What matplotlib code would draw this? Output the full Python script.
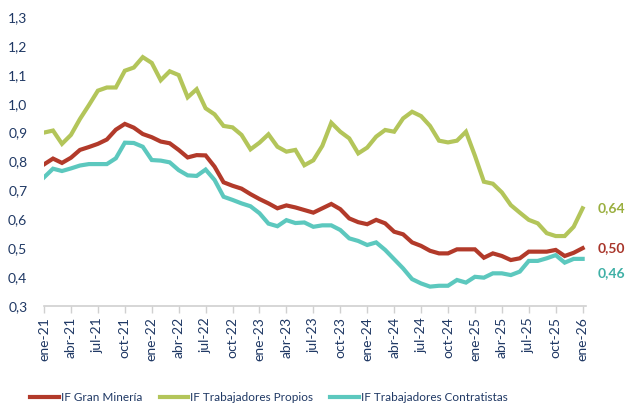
import numpy as np
import matplotlib
matplotlib.use('Agg')
import matplotlib.pyplot as plt
from matplotlib.ticker import FuncFormatter

meses = ['ene', 'feb', 'mar', 'abr', 'may', 'jun', 'jul', 'ago', 'sep', 'oct', 'nov', 'dic']
fechas = [f'{meses[i % 12]}-{21 + i // 12}' for i in range(61)]

gran_mineria = [0.79, 0.81, 0.795, 0.813, 0.84, 0.85, 0.861, 0.876, 0.91, 0.93,
                0.917, 0.895, 0.884, 0.869, 0.863, 0.84, 0.814, 0.822, 0.821, 0.782,
                0.728, 0.716, 0.706, 0.687, 0.67, 0.655, 0.638, 0.648, 0.641, 0.632,
                0.623, 0.638, 0.653, 0.635, 0.603, 0.59, 0.583, 0.598, 0.586, 0.557,
                0.548, 0.52, 0.508, 0.491, 0.482, 0.482, 0.496, 0.496, 0.496, 0.467,
                0.482, 0.473, 0.459, 0.465, 0.488, 0.488, 0.488, 0.494, 0.473, 0.484,
                0.50]
propios = [0.90, 0.907, 0.861, 0.892, 0.947, 0.995, 1.045, 1.056, 1.056, 1.114,
           1.125, 1.161, 1.141, 1.081, 1.112, 1.099, 1.022, 1.05, 0.984, 0.963,
           0.923, 0.918, 0.892, 0.842, 0.865, 0.894, 0.851, 0.834, 0.84, 0.787,
           0.804, 0.854, 0.934, 0.903, 0.88, 0.828, 0.848, 0.886, 0.909, 0.903,
           0.949, 0.972, 0.957, 0.923, 0.872, 0.866, 0.872, 0.903, 0.82, 0.73,
           0.723, 0.693, 0.649, 0.623, 0.598, 0.586, 0.552, 0.542, 0.542, 0.574,
           0.638]
contratistas = [0.745, 0.775, 0.767, 0.776, 0.786, 0.791, 0.791, 0.791, 0.811, 0.865,
                0.864, 0.851, 0.805, 0.803, 0.797, 0.77, 0.752, 0.75, 0.772, 0.736,
                0.678, 0.667, 0.655, 0.645, 0.621, 0.585, 0.576, 0.597, 0.587, 0.589,
                0.574, 0.579, 0.579, 0.563, 0.534, 0.525, 0.511, 0.52, 0.494, 0.462,
                0.43, 0.393, 0.378, 0.367, 0.37, 0.37, 0.39, 0.381, 0.401, 0.398,
                0.413, 0.413, 0.407, 0.419, 0.456, 0.456, 0.465, 0.476, 0.45, 0.463,
                0.463]

series = [
    ('IF Gran Minería', gran_mineria, '#B23A2A', '#A8352A', 0),
    ('IF Trabajadores Propios', propios, '#B3C55A', '#9AAF3F', 0),
    ('IF Trabajadores Contratistas', contratistas, '#5CC8BE', '#3FB0A6', -10),
]

plt.rcParams['font.family'] = ['Lato', 'DejaVu Sans']
navy = '#1F3864'

fig = plt.figure(figsize=(6.29, 4.04), dpi=100)
ax = fig.add_axes([0.070, 0.2426, 0.862, 0.7154])

x = np.arange(len(fechas))
for nombre, vals, color, color_txt, dy in series:
    ax.plot(x, vals, color=color, lw=3, label=nombre, solid_joinstyle='miter')
    ax.annotate(f'{vals[-1]:.2f}'.replace('.', ','), xy=(x[-1], vals[-1]),
                xytext=(11, dy), textcoords='offset points', va='center', ha='left',
                color=color_txt, fontsize=10, fontweight='bold', annotation_clip=False)

ax.set_xlim(0, 60.4)
ax.set_ylim(0.3, 1.3)
ax.set_yticks(np.arange(0.3, 1.31, 0.1))
ax.yaxis.set_major_formatter(FuncFormatter(lambda v, p: f'{v:.1f}'.replace('.', ',')))
ax.set_xticks(x[::3])
ax.set_xticklabels(fechas[::3], rotation=90)

for s in ['top', 'right', 'left']:
    ax.spines[s].set_visible(False)
ax.spines['bottom'].set_color('#D0D0D0')
ax.spines['bottom'].set_linewidth(1.2)
ax.tick_params(axis='y', length=0, labelsize=10, labelcolor=navy, pad=12)
ax.tick_params(axis='x', length=5, color='#D0D0D0', width=1, labelsize=10,
               labelcolor=navy, pad=3)

leg = fig.legend(loc='lower center', bbox_to_anchor=(0.428, -0.025), ncol=3, frameon=False,
                 fontsize=8.5, handlelength=2.4, handletextpad=0.2, columnspacing=1.45)
for t in leg.get_texts():
    t.set_color(navy)

fig.savefig('out.png', dpi=100)
